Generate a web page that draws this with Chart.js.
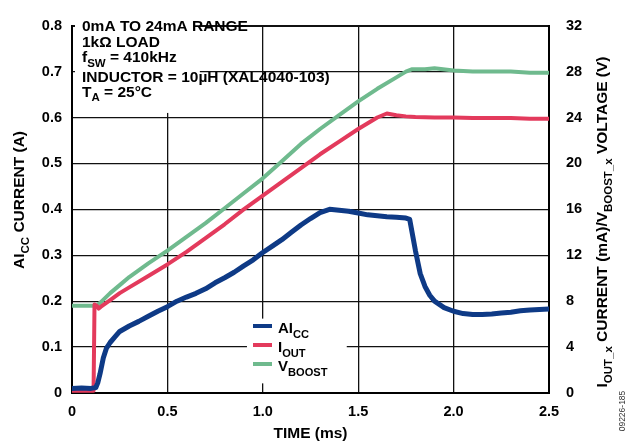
<!DOCTYPE html>
<html lang="en">
<head>
  <meta charset="UTF-8">
  <title>AICC / IOUT / VBOOST vs Time</title>
  <script src="https://cdn.jsdelivr.net/npm/chart.js"></script>
  <style>
    html, body {
      margin: 0;
      padding: 0;
      background: #fff;
      overflow: hidden;
    }
    #wrap {
      width: 626px;
      height: 443px;
    }
  </style>
</head>
<body>
  <div id="wrap"><canvas id="chart" width="626" height="443"></canvas></div>

  <script>
    // AIcc current (A), left axis
    const aiccTime = [0, 0.05, 0.1, 0.125, 0.135, 0.147, 0.164, 0.18, 0.2, 0.225, 0.25, 0.3, 0.35, 0.4, 0.45, 0.5,
      0.55, 0.6, 0.65, 0.7, 0.75, 0.8, 0.85, 0.9, 0.95, 1.0, 1.05, 1.1, 1.15, 1.2, 1.25, 1.3, 1.35, 1.4, 1.45, 1.5,
      1.55, 1.6, 1.65, 1.7, 1.75, 1.77, 1.8, 1.825, 1.85, 1.875, 1.9, 1.95, 2.0, 2.05, 2.1, 2.15, 2.2, 2.25, 2.3,
      2.35, 2.4, 2.45, 2.5];
    const aiccAmps = [0.01, 0.011, 0.01, 0.012, 0.022, 0.042, 0.076, 0.097, 0.11, 0.122, 0.134, 0.146, 0.156, 0.167, 0.178, 0.188,
      0.2, 0.209, 0.217, 0.227, 0.24, 0.251, 0.263, 0.277, 0.29, 0.306, 0.32, 0.334, 0.35, 0.366, 0.38, 0.393, 0.4, 0.398, 0.396, 0.392,
      0.388, 0.386, 0.384, 0.383, 0.381, 0.378, 0.31, 0.26, 0.232, 0.213, 0.2, 0.186, 0.178, 0.173, 0.171, 0.171, 0.172, 0.174, 0.176,
      0.179, 0.181, 0.182, 0.183];

    // Iout current (mA), right axis
    const ioutTime = [0, 0.05, 0.1, 0.113, 0.118, 0.13, 0.14, 0.15, 0.2, 0.25, 0.3, 0.4, 0.5, 0.6, 0.7, 0.8, 0.9, 1.0,
      1.1, 1.2, 1.3, 1.4, 1.5, 1.55, 1.6, 1.65, 1.7, 1.75, 1.8, 1.9, 2.0, 2.1, 2.2, 2.3, 2.4, 2.5];
    const ioutMilliamps = [0.2, 0.2, 0.2, 0.2, 7.7, 7.6, 7.35, 7.5, 8.1, 8.7, 9.2, 10.2, 11.2, 12.3, 13.5, 14.7, 16.0, 17.2,
      18.4, 19.6, 20.8, 21.9, 23.0, 23.5, 24.0, 24.35, 24.2, 24.1, 24.05, 24.0, 24.0, 23.95, 23.95, 23.95, 23.9, 23.9];

    // Vboost voltage (V), right axis
    const vboostTime = [0, 0.05, 0.1, 0.13, 0.15, 0.2, 0.25, 0.3, 0.4, 0.5, 0.6, 0.7, 0.8, 0.9, 1.0, 1.1, 1.2, 1.3, 1.4,
      1.5, 1.6, 1.7, 1.75, 1.78, 1.85, 1.9, 2.0, 2.1, 2.2, 2.3, 2.4, 2.5];
    const vboostVolts = [7.6, 7.6, 7.6, 7.6, 7.9, 8.7, 9.4, 10.1, 11.3, 12.4, 13.6, 14.8, 16.1, 17.4, 18.7, 20.2, 21.7, 23.0, 24.2,
      25.4, 26.5, 27.5, 28.0, 28.2, 28.2, 28.3, 28.1, 28.0, 28.0, 28.0, 27.9, 27.9];

    const xTickLabels = ['0', '0.5', '1.0', '1.5', '2.0', '2.5'];
    const leftTickLabels = ['0', '0.1', '0.2', '0.3', '0.4', '0.5', '0.6', '0.7', '0.8'];
    const rightTickLabels = ['0', '4', '8', '12', '16', '20', '24', '28', '32'];

    const FONT = '"Liberation Sans", Arial, Helvetica, sans-serif';
    const BLUE = '#0e3a86';
    const RED = '#e33a5c';
    const GREEN = '#6fba8e';

    function toPoints(xs, ys) {
      return xs.map((x, i) => ({ x: x, y: ys[i] }));
    }

    // text with subscripts: parts = [{t, sub}]
    function richWidth(ctx, parts, size) {
      let w = 0;
      parts.forEach(p => {
        ctx.font = 'bold ' + (p.sub ? size * 0.74 : size) + 'px ' + FONT;
        w += ctx.measureText(p.t).width;
      });
      return w;
    }

    function drawRich(ctx, parts, x, y, size) {
      ctx.textAlign = 'left';
      ctx.textBaseline = 'alphabetic';
      parts.forEach(p => {
        ctx.font = 'bold ' + (p.sub ? size * 0.74 : size) + 'px ' + FONT;
        ctx.fillText(p.t, x, p.sub ? y + size * 0.3 : y);
        x += ctx.measureText(p.t).width;
      });
    }

    const overlayPlugin = {
      id: 'overlay',
      beforeDatasetsDraw(chart) {
        const ctx = chart.ctx;
        const xs = chart.scales.x;
        const ys = chart.scales.y;
        ctx.save();
        ctx.fillStyle = '#fff';
        // white patch behind the condition text
        ctx.fillRect(75, 16, xs.getPixelForValue(0.67) - 75, ys.getPixelForValue(0.61) - 16);
        // white patch behind the legend
        const lx = xs.getPixelForValue(0.917);
        const ly = ys.getPixelForValue(0.162);
        ctx.fillRect(lx, ly, xs.getPixelForValue(1.44) - lx, ys.getPixelForValue(0.021) - ly);
        ctx.restore();
      },
      afterDraw(chart) {
        const ctx = chart.ctx;
        const area = chart.chartArea;
        ctx.save();
        ctx.fillStyle = '#000';

        // condition block
        const notes = [
          [{ t: '0mA TO 24mA RANGE' }],
          [{ t: '1k\u03A9 LOAD' }],
          [{ t: 'f' }, { t: 'SW', sub: true }, { t: ' = 410kHz' }],
          [{ t: 'INDUCTOR = 10\u00B5H (XAL4040-103)' }],
          [{ t: 'T' }, { t: 'A', sub: true }, { t: ' = 25\u00B0C' }]
        ];
        const baselines = [31, 46.5, 62, 81.5, 96.5];
        notes.forEach((parts, i) => drawRich(ctx, parts, 82, baselines[i], 15.5));

        // legend
        const legendItems = [
          { color: BLUE, parts: [{ t: 'AI' }, { t: 'CC', sub: true }] },
          { color: RED, parts: [{ t: 'I' }, { t: 'OUT', sub: true }] },
          { color: GREEN, parts: [{ t: 'V' }, { t: 'BOOST', sub: true }] }
        ];
        legendItems.forEach((item, i) => {
          const y = 326 + i * 19;
          ctx.strokeStyle = item.color;
          ctx.lineWidth = 4;
          ctx.beginPath();
          ctx.moveTo(253, y);
          ctx.lineTo(272, y);
          ctx.stroke();
          ctx.fillStyle = '#000';
          drawRich(ctx, item.parts, 278, y + 7, 15);
        });

        // x title
        ctx.font = 'bold 15.5px ' + FONT;
        ctx.textAlign = 'center';
        ctx.textBaseline = 'alphabetic';
        ctx.fillText('TIME (ms)', (area.left + area.right) / 2, 438);

        // left title
        const leftTitle = [{ t: 'AI' }, { t: 'CC', sub: true }, { t: ' CURRENT (A)' }];
        ctx.save();
        ctx.translate(24, 200);
        ctx.rotate(-Math.PI / 2);
        drawRich(ctx, leftTitle, -richWidth(ctx, leftTitle, 15.5) / 2, 0, 15.5);
        ctx.restore();

        // right title
        const rightTitle = [{ t: 'I' }, { t: 'OUT_x', sub: true }, { t: ' CURRENT (mA)/V' },
          { t: 'BOOST_x', sub: true }, { t: ' VOLTAGE (V)' }];
        ctx.save();
        ctx.translate(607, 222);
        ctx.rotate(-Math.PI / 2);
        drawRich(ctx, rightTitle, -richWidth(ctx, rightTitle, 15.5) / 2, 0, 15.5);
        ctx.restore();

        // figure id
        ctx.save();
        ctx.translate(625, 411);
        ctx.rotate(-Math.PI / 2);
        ctx.font = '8.5px ' + FONT;
        ctx.fillStyle = '#333';
        ctx.textAlign = 'center';
        ctx.fillText('09226-185', 0, 0);
        ctx.restore();

        ctx.restore();
      }
    };

    const tickFont = { family: FONT, size: 14.5, weight: 'bold' };

    new Chart(document.getElementById('chart'), {
      type: 'line',
      data: {
        datasets: [
          {
            label: 'AICC',
            data: toPoints(aiccTime, aiccAmps),
            borderColor: BLUE,
            borderWidth: 5,
            yAxisID: 'y'
          },
          {
            label: 'IOUT',
            data: toPoints(ioutTime, ioutMilliamps),
            borderColor: RED,
            borderWidth: 4,
            yAxisID: 'y2'
          },
          {
            label: 'VBOOST',
            data: toPoints(vboostTime, vboostVolts),
            borderColor: GREEN,
            borderWidth: 4,
            yAxisID: 'y2'
          }
        ]
      },
      options: {
        responsive: false,
        animation: false,
        events: [],
        elements: {
          point: { radius: 0 },
          line: { tension: 0, borderJoinStyle: 'round', borderCapStyle: 'round' }
        },
        layout: { padding: { top: 13, left: 0, right: 0, bottom: 0 } },
        plugins: {
          legend: { display: false },
          tooltip: { enabled: false }
        },
        scales: {
          x: {
            type: 'linear',
            min: 0,
            max: 2.5,
            afterFit: s => { s.height = 50; },
            ticks: {
              stepSize: 0.5,
              color: '#000',
              font: tickFont,
              padding: 10,
              maxRotation: 0,
              callback: (v, i) => xTickLabels[i]
            },
            grid: { color: '#111', lineWidth: 1.3, drawTicks: false },
            border: { color: '#000', width: 2 }
          },
          y: {
            position: 'left',
            min: 0,
            max: 0.8,
            afterFit: s => { s.width = 72; },
            ticks: {
              stepSize: 0.1,
              color: '#000',
              font: tickFont,
              padding: 10,
              callback: (v, i) => leftTickLabels[i]
            },
            grid: {
              color: '#111',
              lineWidth: c => (c.index === 8 ? 2 : 1.3),
              drawTicks: false
            },
            border: { color: '#000', width: 2 }
          },
          y2: {
            position: 'right',
            min: 0,
            max: 32,
            afterFit: s => { s.width = 77; },
            ticks: {
              stepSize: 4,
              color: '#000',
              font: tickFont,
              padding: 17,
              callback: (v, i) => rightTickLabels[i]
            },
            grid: { display: false, drawTicks: false },
            border: { color: '#000', width: 2 }
          }
        }
      },
      plugins: [overlayPlugin]
    });
  </script>
</body>
</html>
